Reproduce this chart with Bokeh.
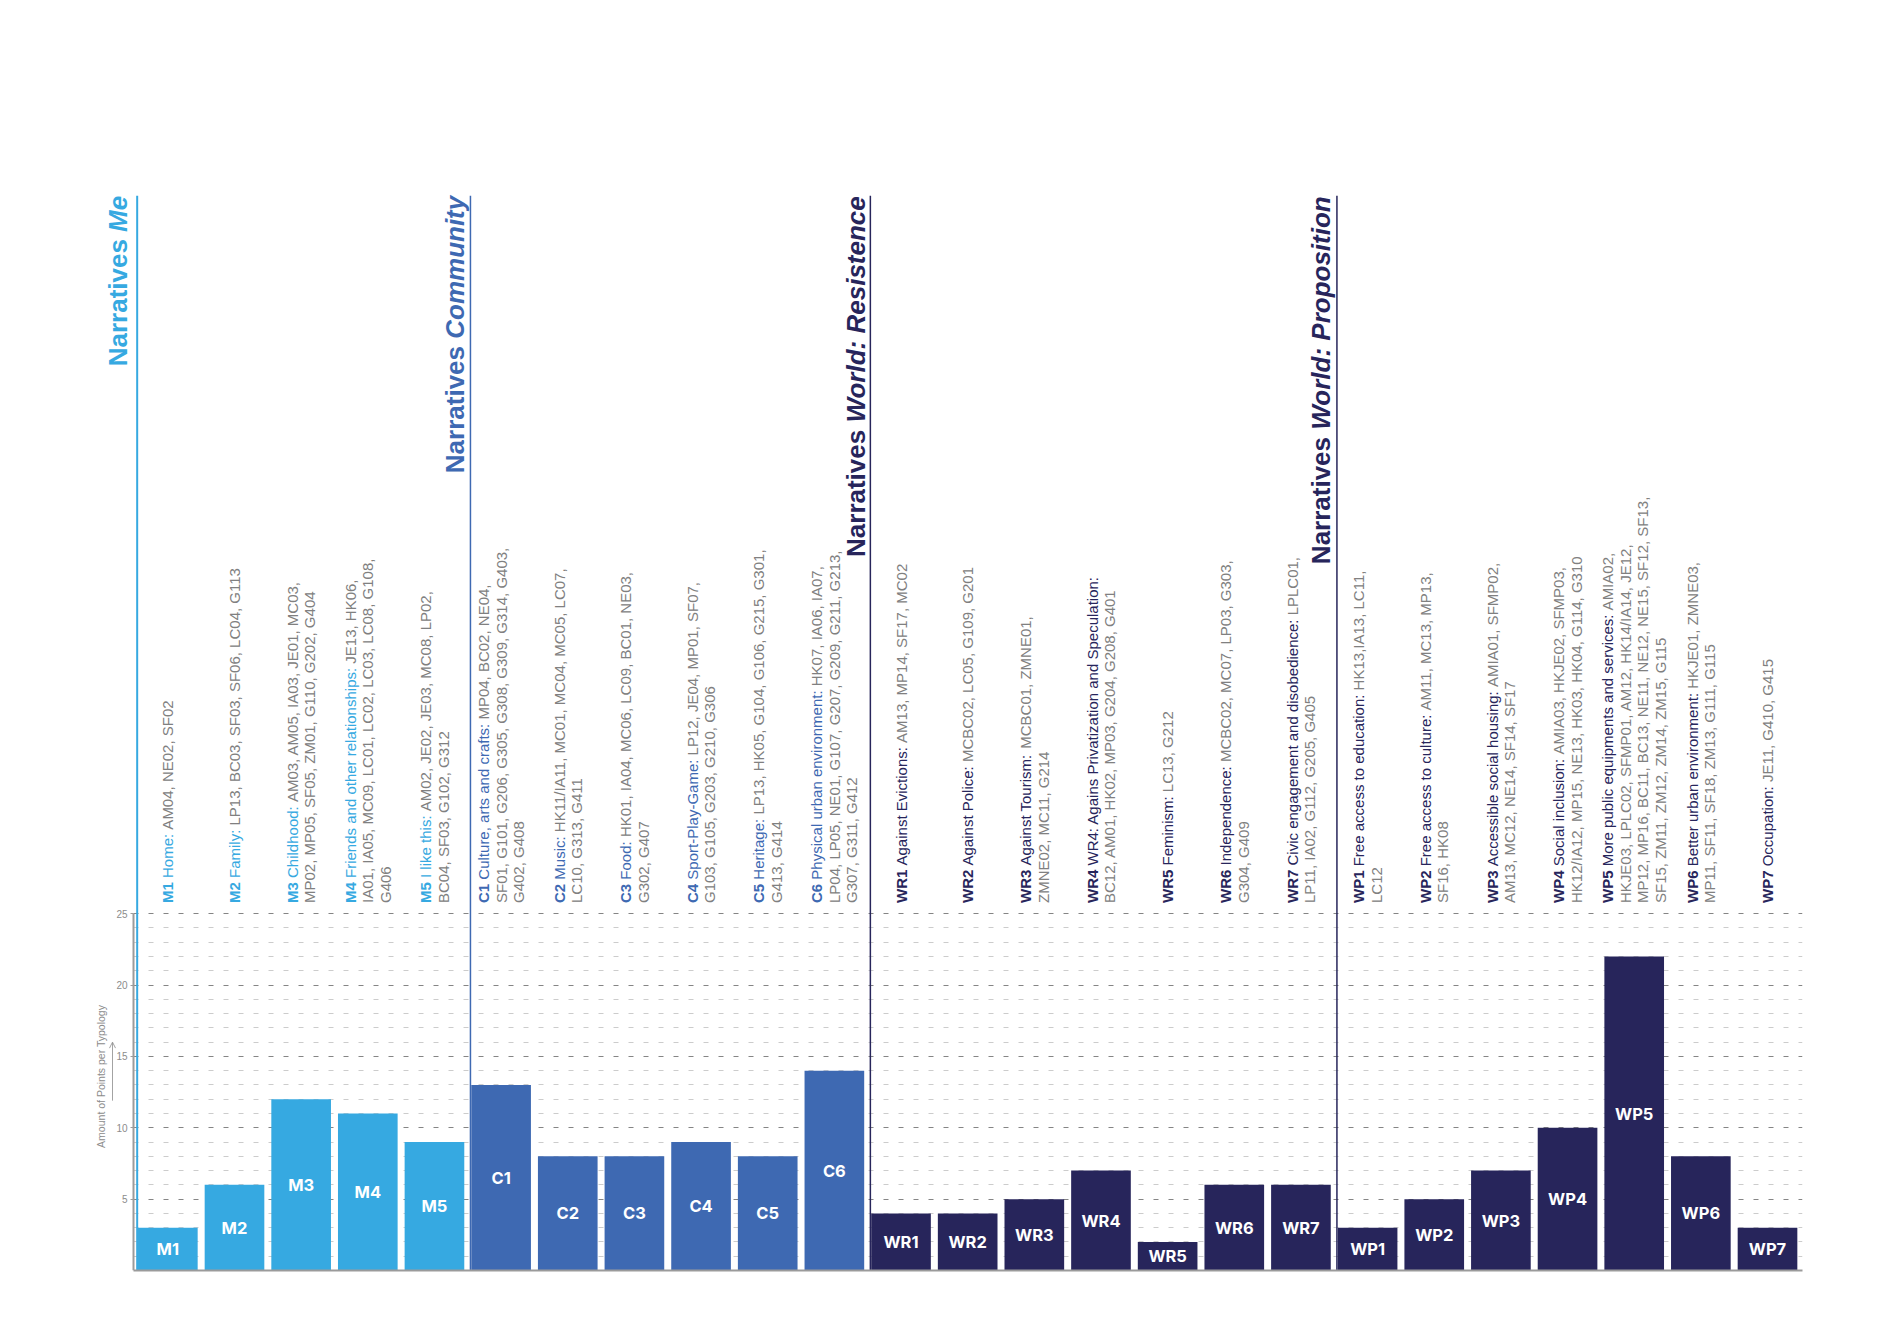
import math
from bokeh.plotting import figure
from bokeh.models import ColumnDataSource, FixedTicker, Label, Arrow, OpenHead, Range1d
from bokeh.core.properties import value
from bokeh.embed import file_html
from bokeh.resources import INLINE

# ---------------- data ----------------
groups = ["Me", "Community", "World: Resistence", "World: Proposition"]
group_sizes = [5, 6, 7, 7]
title_prefix = "Narratives "

categories = ["M1", "M2", "M3", "M4", "M5",
              "C1", "C2", "C3", "C4", "C5", "C6",
              "WR1", "WR2", "WR3", "WR4", "WR5", "WR6", "WR7",
              "WP1", "WP2", "WP3", "WP4", "WP5", "WP6", "WP7"]

names = ["Home", "Family", "Childhood", "Friends and other relationships", "I like this",
         "Culture, arts and crafts", "Music", "Food", "Sport-Play-Game", "Heritage",
         "Physical urban environment",
         "Against Evictions", "Against Police", "Against Tourism",
         "WR4: Agains Privatization and Speculation", "Feminism", "Independence",
         "Civic engagement and disobedience",
         "Free access to education", "Free access to culture", "Accessible social housing",
         "Social inclusion", "More public equipments and services",
         "Better urban environment", "Occupation"]

codes = [
    "AM04, NE02, SF02",
    "LP13, BC03, SF03, SF06, LC04, G113",
    "AM03, AM05, IA03, JE01, MC03,\nMP02, MP05, SF05, ZM01, G110, G202, G404",
    "JE13, HK06,\nIA01, IA05, MC09, LC01, LC02, LC03, LC08, G108,\nG406",
    "AM02, JE02, JE03,  MC08, LP02,\nBC04, SF03, G102, G312",
    "MP04, BC02, NE04,\nSF01, G101, G206, G305, G308, G309, G314, G403,\nG402, G408",
    "HK11/IA11, MC01, MC04, MC05, LC07,\nLC10, G313, G411",
    "HK01, IA04, MC06, LC09, BC01, NE03,\nG302, G407",
    "LP12, JE04, MP01, SF07,\nG103, G105, G203, G210, G306",
    "LP13, HK05, G104, G106, G215, G301,\nG413, G414",
    "HK07, IA06, IA07,\nLP04, LP05, NE01, G107, G207, G209, G211, G213,\nG307, G311, G412",
    "AM13, MP14, SF17, MC02",
    "MCBC02, LC05, G109, G201",
    "MCBC01, ZMNE01,\nZMNE02, MC11, G214",
    "\nBC12, AM01, HK02, MP03, G204, G208, G401",
    "LC13, G212",
    "MCBC02, MC07, LP03, G303,\nG304, G409",
    "LPLC01,\nLP11, IA02, G112, G205, G405",
    "HK13,IA13, LC11,\nLC12",
    "AM11, MC13, MP13,\nSF16, HK08",
    "AMIA01, SFMP02,\nAM13, MC12, NE14, SF14, SF17",
    "AMIA03, HKJE02, SFMP03,\nHK12/IA12, MP15, NE13, HK03, HK04, G114, G310",
    "AMIA02,\nHKJE03, LPLC02, SFMP01, AM12, HK14/IA14, JE12,\nMP12, MP16, BC11, BC13, NE11, NE12, NE15, SF12, SF13,\nSF15, ZM11, ZM12, ZM14, ZM15, G115",
    "HKJE01, ZMNE03,\nMP11, SF11, SF18, ZM13, G111, G115",
    "JE11, G410, G415",
]

values = [3, 6, 12, 11, 9,
          13, 8, 8, 9, 8, 14,
          4, 4, 5, 7, 2, 6, 6,
          3, 5, 7, 10, 22, 8, 3]

y_ticks = [5, 10, 15, 20, 25]
y_label = "Amount of Points per Typology"

# ---------------- style / layout ----------------
group_colors = ["#36A9E1", "#3E69B2", "#27255B", "#27255B"]
group_line_widths = [2, 1.5, 1.5, 1.5]
title_gaps = [19, 15, 14, 16]      # px between title baseline and section line
CODE_GRAY = "#808080"
AXIS_GRAY = "#9b9b9b"
FONT = "Liberation Sans"
ANN_SIZE = 15
TITLE_SIZE = 26

PX_X = 66.64           # pixels per category
PX_Y = 14.273          # pixels per point
AX = -0.015            # where the y axis sits (data x)
LEFT_BORDER = 40
AXIS_PAGE_X = 133
X0 = AX - (AXIS_PAGE_X - LEFT_BORDER) / PX_X
X1 = 25.025
Y1 = 77.0
FRAME_W = int(round((X1 - X0) * PX_X))
FRAME_H = int(round(Y1 * PX_Y))
BAR_W = 0.895
LINE_DX = 17.5 / PX_X
TEXT_Y0 = 25.75
SECTION_TOP = 75.3

# Helvetica / Arial (Liberation Sans metric-compatible) advance widths
REG_UP = [667, 667, 722, 722, 667, 611, 778, 722, 278, 500, 667, 556, 833, 722, 778, 667, 778, 722, 667, 611, 722, 667, 944, 667, 667, 611]
REG_LO = [556, 556, 500, 556, 556, 278, 556, 556, 222, 222, 500, 222, 833, 556, 556, 556, 556, 333, 500, 278, 556, 500, 722, 500, 500, 500]
BLD_UP = [722, 722, 722, 722, 667, 611, 778, 722, 278, 556, 722, 611, 833, 722, 778, 667, 778, 722, 667, 611, 722, 667, 944, 667, 667, 611]
BLD_LO = [556, 611, 556, 611, 556, 333, 611, 611, 278, 278, 556, 278, 889, 611, 611, 611, 611, 389, 556, 333, 611, 556, 778, 556, 556, 500]


def text_w(s, bold, size):
    tot = 0
    for ch in s:
        if "A" <= ch <= "Z":
            tot += (BLD_UP if bold else REG_UP)[ord(ch) - 65]
        elif "a" <= ch <= "z":
            tot += (BLD_LO if bold else REG_LO)[ord(ch) - 97]
        elif ch.isdigit():
            tot += 556
        elif ch == ":":
            tot += 333 if bold else 278
        elif ch == "-":
            tot += 333
        else:
            tot += 278
    return tot / 1000.0 * size


group_of = []
for g, n in enumerate(group_sizes):
    group_of += [g] * n
group_start = [sum(group_sizes[:g]) for g in range(len(group_sizes))]

p = figure(frame_width=FRAME_W, frame_height=FRAME_H,
           x_range=Range1d(X0, X1), y_range=Range1d(0, Y1),
           output_backend="svg", toolbar_location=None,
           min_border_left=LEFT_BORDER, min_border_right=60,
           min_border_top=171, min_border_bottom=40,
           outline_line_color=None, background_fill_color="white")

# axes
p.yaxis.fixed_location = AX
p.yaxis.ticker = FixedTicker(ticks=y_ticks)
p.yaxis.bounds = (0, max(y_ticks))
p.yaxis.axis_line_color = AXIS_GRAY
p.yaxis.axis_line_width = 2
p.yaxis.major_tick_line_color = AXIS_GRAY
p.yaxis.major_tick_out = 3
p.yaxis.major_tick_in = 0
p.yaxis.minor_tick_line_color = None
p.yaxis.major_label_text_font_size = "10px"
p.yaxis.major_label_text_color = "#8c8c8c"
p.yaxis.major_label_text_font = FONT
p.yaxis.major_label_standoff = 3

p.xaxis.ticker = FixedTicker(ticks=[])
p.xaxis.bounds = (AX, X1)
p.xaxis.major_label_text_font_size = "0px"
p.xaxis.major_tick_line_color = None
p.xaxis.minor_tick_line_color = None
p.xaxis.axis_line_color = AXIS_GRAY
p.xaxis.axis_line_width = 2

# grid
p.xgrid.visible = False
p.ygrid.ticker = FixedTicker(ticks=[0] + y_ticks,
                             minor_ticks=[k for k in range(1, max(y_ticks)) if k % 5])
p.ygrid.bounds = (0, max(y_ticks))
p.ygrid.cross_bounds = (AX, X1)
p.ygrid.grid_line_color = "#858585"
p.ygrid.grid_line_dash = "5 10"
p.ygrid.grid_line_width = 1
p.ygrid.minor_grid_line_color = "#cccccc"
p.ygrid.minor_grid_line_dash = "5 10"
p.ygrid.minor_grid_line_width = 1

# bars
xs = [i + 0.5 for i in range(len(categories))]
bar_src = ColumnDataSource(dict(
    x=xs, top=values, mid=[v / 2 for v in values], cat=categories,
    color=[group_colors[g] for g in group_of]))
p.vbar(x="x", top="top", bottom=0, width=BAR_W, color="color", line_color=None, source=bar_src)
p.text(x="x", y="mid", text="cat", source=bar_src, text_color="white",
       text_font=value("Inter"), text_font_style="bold", text_font_size="16.5px",
       text_align="center", text_baseline="middle")

# section lines
sec_x = [s + 0.04 for s in group_start]
p.segment(x0=sec_x, y0=[0] * len(sec_x), x1=sec_x, y1=[SECTION_TOP] * len(sec_x),
          line_color=group_colors, line_width=group_line_widths)

# section titles
for g, name in enumerate(groups):
    w1 = text_w(title_prefix, True, TITLE_SIZE)
    w2 = text_w(name, True, TITLE_SIZE)
    y0 = SECTION_TOP - (w1 + w2) / PX_Y
    tx = sec_x[g] - title_gaps[g] / PX_X
    for txt, style, yy in [(title_prefix, "bold", y0), (name, "bold italic", y0 + w1 / PX_Y)]:
        p.add_layout(Label(x=tx, y=yy, text=txt, angle=math.pi / 2,
                           text_align="left", text_baseline="middle",
                           text_font=FONT, text_font_style=style,
                           text_font_size=f"{TITLE_SIZE}px", text_color=group_colors[g]))

# annotation texts
bold_src = dict(x=[], y=[], text=[], color=[])
norm_src = dict(x=[], y=[], text=[], color=[])
for i, (cat, name, code) in enumerate(zip(categories, names, codes)):
    g = group_of[i]
    lines = code.split("\n")
    n = len(lines)
    for k, cl in enumerate(lines):
        x = xs[i] + (k - (n - 1) / 2) * LINE_DX
        segs = []
        if k == 0:
            segs.append((cat + " ", True, group_colors[g]))
            segs.append((name + ": ", False, group_colors[g]))
        if cl:
            segs.append((cl, False, CODE_GRAY))
        pos = 0.0
        for s, b, c in segs:
            d = bold_src if b else norm_src
            d["x"].append(x)
            d["y"].append(TEXT_Y0 + pos / PX_Y)
            d["text"].append(s)
            d["color"].append(c)
            pos += text_w(s, b, ANN_SIZE)

for d, style in [(norm_src, "normal"), (bold_src, "bold")]:
    p.text(x="x", y="y", text="text", text_color="color", source=ColumnDataSource(d),
           angle=math.pi / 2, text_align="left", text_baseline="middle",
           text_font=value(FONT), text_font_style=style, text_font_size=f"{ANN_SIZE}px")

# y axis title with arrow
p.add_layout(Label(x=AX - 33 / PX_X, y=13.6, text=y_label, angle=math.pi / 2,
                   text_align="center", text_baseline="middle", text_font=FONT,
                   text_font_size="10.5px", text_color="#8c8c8c"))
p.add_layout(Arrow(end=OpenHead(size=6, line_color="#8c8c8c", line_width=0.8),
                   x_start=AX - 21 / PX_X, y_start=11.9, x_end=AX - 21 / PX_X, y_end=16.0,
                   line_color="#8c8c8c", line_width=0.8))

open("out.html", "w").write(file_html(p, INLINE))
